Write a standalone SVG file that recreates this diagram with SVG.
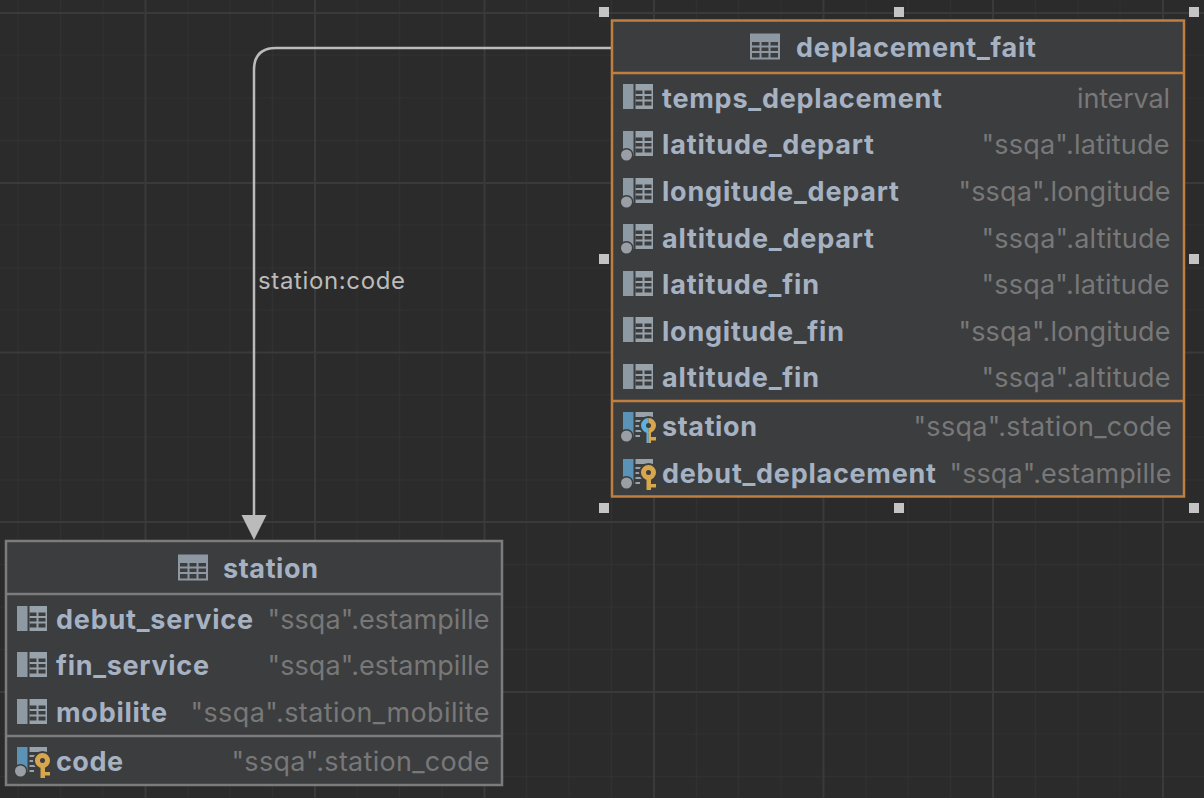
<svg xmlns="http://www.w3.org/2000/svg" width="1204" height="798" viewBox="0 0 1204 798">
<style>
text{font-family:Inter,"Noto Sans","Liberation Sans",sans-serif;font-size:27px}
.n{font-weight:700;fill:#a6b2c2}
.t{font-weight:400;fill:#787878}
.h{font-weight:700;fill:#a6b2c2}
.l{font-size:24px;fill:#bbbbbb}
.box{fill:#3c3d3f}
.or{stroke:#c07f3e;stroke-width:2.5;fill:none}
.gr{stroke:#7b7c7c;stroke-width:2.5;fill:none}
.gm{stroke:#313131;stroke-width:1.5}
.gM{stroke:#3a3a3a;stroke-width:2}
</style>
<defs>
<g id="tbl"><path d="M0 0H30V26H0Z" fill="#8d98a3"/><path d="M2 8.500H9.500V12H2ZM11.500 8.500H18.500V12H11.500ZM20.500 8.500H28V12H20.500ZM2 14H9.500V17.500H2ZM11.500 14H18.500V17.500H11.500ZM20.500 14H28V17.500H20.500ZM2 19.500H9.500V24H2ZM11.500 19.500H18.500V24H11.500ZM20.500 19.500H28V24H20.500Z" fill="#3c3d3f"/></g>
<g id="col"><rect x="0" y="0" width="10.500" height="25" fill="#8d9aa3"/><path d="M12.500 0H30V25H12.500Z" fill="#98a2ab"/><path d="M12.500 6.500H19.500V10H12.500ZM21.500 6.500H28.500V10H21.500ZM12.500 12H19.500V15.500H12.500ZM21.500 12H28.500V15.500H21.500ZM12.500 17.500H19.500V21.500H12.500ZM21.500 17.500H28.500V21.500H21.500Z" fill="#3c3d3f"/></g>
<g id="fk"><use href="#col"/><circle cx="3.500" cy="24" r="7" fill="#3c3d3f"/><circle cx="3.500" cy="24" r="5.500" fill="#9a9fa5"/></g>
<g id="base"><rect x="0" y="0" width="10.500" height="25" fill="#5a93b5"/><path d="M12.500 0H30V5H12.500Z" fill="#98a2ab"/><path d="M12.500 8H22V10H12.500ZM12.500 13H19V15H12.500ZM12.500 18H20V20H12.500ZM12.500 23H17V25H12.500Z" fill="#98a2ab"/><circle cx="3.500" cy="24" r="7" fill="#3c3d3f"/><circle cx="3.500" cy="24" r="5.500" fill="#9a9fa5"/></g>
<g id="pk"><use href="#base"/><circle cx="25.500" cy="13.500" r="9.500" fill="#3c3d3f"/><path d="M23.500 20H28V31H23.500ZM27 25H33V28.500H27Z" fill="#d8a64c"/><circle cx="25.500" cy="13.500" r="5" fill="none" stroke="#d8a64c" stroke-width="5"/></g>
<g id="pkfk"><use href="#base"/><circle cx="25.500" cy="13.500" r="9.500" fill="#3c3d3f"/><path d="M23.500 20H25.750V31H23.500Z" fill="#5eb1dd"/><path d="M25.750 20H28V31H25.750ZM27 25H33V28.500H27Z" fill="#d8a64c"/><path d="M25.500 6A7.500 7.500 0 0 0 25.500 21V16A2.500 2.500 0 0 1 25.500 11Z" fill="#5eb1dd"/><path d="M25.500 6A7.500 7.500 0 0 1 25.500 21V16A2.500 2.500 0 0 0 25.500 11Z" fill="#d8a64c"/></g>
</defs>
<rect width="1204" height="798" fill="#2b2b2b"/>
<g id="grid-lines">
<path class="gm" d="M18 0V798M60.500 0V798M103 0V798M188 0V798M230 0V798M272.500 0V798M357 0V798M399.500 0V798M442 0V798M526.500 0V798M569 0V798M611.500 0V798M696.500 0V798M738.500 0V798M781 0V798M866 0V798M908 0V798M950.500 0V798M1035.500 0V798M1078 0V798M1120 0V798M1162.500 0V798M0 55H1204M0 98H1204M0 140.500H1204M0 225H1204M0 268H1204M0 310H1204M0 395H1204M0 437H1204M0 480H1204M0 564.500H1204M0 607H1204M0 649.500H1204M0 734H1204M0 776.500H1204"/>
<path class="gM" d="M145.500 0V798M315 0V798M484.500 0V798M654 0V798M823.500 0V798M993 0V798M1163 0V798M0 13H1204M0 183H1204M0 352.500H1204M0 522H1204M0 692H1204"/>
</g>
<g id="connectors">
<path d="M612 48H276Q254 48 254 70V518" fill="none" stroke="#bbbbbb" stroke-width="2.500"/>
<path d="M241.500 515H266.500L254 540Z" fill="#bbbbbb"/>
<text class="l" x="258" y="289" textLength="147">station:code</text>
</g>
<g id="handles" fill="#c4c4c4">
<rect x="599" y="7" width="10" height="10"/><rect x="894" y="7" width="10" height="10"/><rect x="1189" y="7" width="10" height="10"/>
<rect x="599" y="254" width="10" height="10"/><rect x="1189" y="254" width="10" height="10"/>
<rect x="599" y="503" width="10" height="10"/><rect x="894" y="503" width="10" height="10"/><rect x="1189" y="503" width="10" height="10"/>
</g>
<g id="deplacement_fait">
<rect class="box" x="612" y="20.500" width="572" height="476"/>
<rect class="or" x="612" y="20.500" width="572" height="476"/>
<path class="or" d="M612 73H1184M612 401H1184"/>
<use href="#tbl" x="750" y="33.500"/>
<text class="h" x="796" y="57" textLength="240">deplacement_fait</text>
<use href="#col" x="623" y="84"/><text class="n" x="662" y="108" textLength="280">temps_deplacement</text><text class="t" x="1077" y="108" textLength="93">interval</text>
<use href="#fk" x="623" y="131"/><text class="n" x="662" y="154" textLength="212">latitude_depart</text><text class="t" x="981.500" y="154" textLength="188">"ssqa".latitude</text>
<use href="#fk" x="623" y="178"/><text class="n" x="662" y="201" textLength="237">longitude_depart</text><text class="t" x="958.500" y="201" textLength="212">"ssqa".longitude</text>
<use href="#fk" x="623" y="224"/><text class="n" x="662" y="248" textLength="212">altitude_depart</text><text class="t" x="981.500" y="248" textLength="189">"ssqa".altitude</text>
<use href="#col" x="623" y="271"/><text class="n" x="662" y="294" textLength="157">latitude_fin</text><text class="t" x="981.500" y="294" textLength="188">"ssqa".latitude</text>
<use href="#col" x="623" y="317"/><text class="n" x="662" y="341" textLength="182">longitude_fin</text><text class="t" x="958.500" y="341" textLength="212">"ssqa".longitude</text>
<use href="#col" x="623" y="364"/><text class="n" x="662" y="387" textLength="157">altitude_fin</text><text class="t" x="981.500" y="387" textLength="189">"ssqa".altitude</text>
<use href="#pkfk" x="623" y="412"/><text class="n" x="662" y="436" textLength="95">station</text><text class="t" x="913.500" y="436" textLength="258">"ssqa".station_code</text>
<use href="#pk" x="623" y="459"/><text class="n" x="662" y="483" textLength="274">debut_deplacement</text><text class="t" x="949.500" y="483" textLength="222">"ssqa".estampille</text>
</g>
<g id="station">
<rect class="box" x="6" y="541" width="496" height="244"/>
<rect class="gr" x="6" y="541" width="496" height="244"/>
<path class="gr" d="M6 594H502M6 736H502"/>
<use href="#tbl" x="178" y="554.500"/>
<text class="h" x="223" y="578" textLength="95">station</text>
<use href="#col" x="17" y="606"/><text class="n" x="56" y="629" textLength="197">debut_service</text><text class="t" x="267.500" y="629" textLength="222">"ssqa".estampille</text>
<use href="#col" x="17" y="652"/><text class="n" x="56" y="675" textLength="153">fin_service</text><text class="t" x="267.500" y="675" textLength="222">"ssqa".estampille</text>
<use href="#col" x="17" y="699"/><text class="n" x="56" y="722" textLength="111">mobilite</text><text class="t" x="190.500" y="722" textLength="299">"ssqa".station_mobilite</text>
<use href="#pk" x="17" y="747"/><text class="n" x="56" y="771" textLength="67">code</text><text class="t" x="231.500" y="771" textLength="258">"ssqa".station_code</text>
</g>
</svg>
